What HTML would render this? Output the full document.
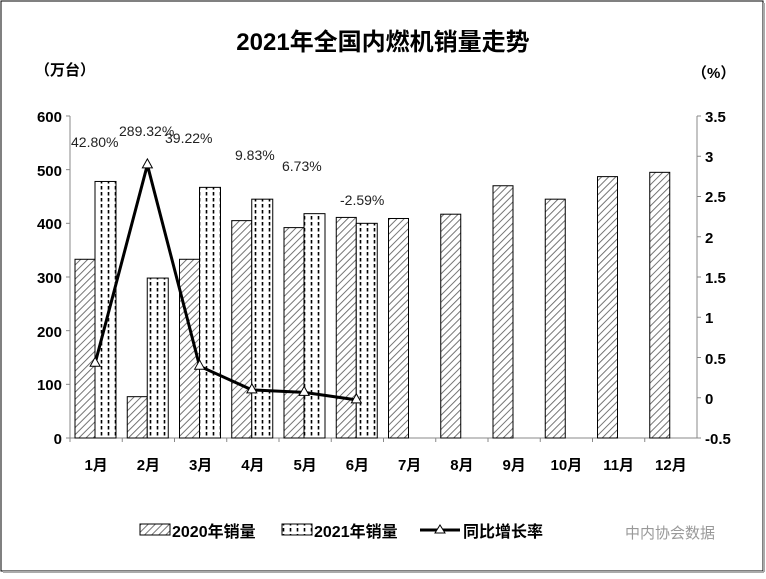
<!DOCTYPE html>
<html><head><meta charset="utf-8"><style>
body{margin:0;background:#fff}
svg text{font-family:"Liberation Sans","Noto Sans CJK SC",sans-serif}
</style></head><body>
<svg width="766" height="574" xmlns="http://www.w3.org/2000/svg">
<defs>
<pattern id="h" patternUnits="userSpaceOnUse" width="5" height="5" patternTransform="rotate(45)">
<rect width="5" height="5" fill="#fff"/><line x1="0" y1="0" x2="0" y2="5" stroke="#666" stroke-width="1.8"/>
</pattern>
<pattern id="d" patternUnits="userSpaceOnUse" width="7" height="6">
<rect width="7" height="6" fill="#fff"/><line x1="3.5" y1="0" x2="3.5" y2="3.5" stroke="#000" stroke-width="1.6"/>
</pattern>
</defs>
<rect x="1" y="1" width="762" height="570" fill="#fff" stroke="#000" stroke-width="1"/>
<line x1="764" y1="3" x2="764" y2="572" stroke="#aaa" stroke-width="2"/>
<line x1="3" y1="572" x2="764" y2="572" stroke="#aaa" stroke-width="2"/>
<text x="383" y="50" font-size="24" font-weight="bold" text-anchor="middle">2021年全国内燃机销量走势</text>
<text x="35" y="75" font-size="15" font-weight="bold">（万台）</text>
<text x="692" y="78" font-size="15" font-weight="bold">（%）</text>
<g font-size="15" font-weight="bold" text-anchor="end">
<text x="62" y="122">600</text><text x="62" y="176">500</text><text x="62" y="229">400</text><text x="62" y="283">300</text><text x="62" y="337">200</text><text x="62" y="390">100</text><text x="62" y="444">0</text>
</g>
<g font-size="15" font-weight="bold">
<text x="705" y="122">3.5</text><text x="705" y="162">3</text><text x="705" y="202">2.5</text><text x="705" y="243">2</text><text x="705" y="283">1.5</text><text x="705" y="323">1</text><text x="705" y="364">0.5</text><text x="705" y="404">0</text><text x="705" y="444">-0.5</text>
</g>
<g stroke="#888" stroke-width="1">
<line x1="70" y1="116" x2="70" y2="438"/><line x1="697" y1="116" x2="697" y2="438"/>
<line x1="70" y1="438" x2="697" y2="438"/>
</g>
<g id="tk" stroke="#888" stroke-width="1"></g>
<g id="bars" stroke="#000" stroke-width="1"></g>
<g id="lbl" font-size="15" font-weight="bold" text-anchor="middle"></g>
<polyline id="ln" fill="none" stroke="#000" stroke-width="3"/>
<g id="mk" fill="#fff" stroke="#000" stroke-width="1"></g>
<g font-size="14" fill="#222">
<text x="71" y="147">42.80%</text><text x="119" y="136">289.32%</text><text x="165" y="143">39.22%</text>
<text x="235" y="160">9.83%</text><text x="282" y="171">6.73%</text><text x="340" y="205">-2.59%</text>
</g>
<rect x="140" y="524" width="30" height="11" fill="url(#h)" stroke="#000"/>
<text x="172" y="537" font-size="16" font-weight="bold">2020年销量</text>
<rect x="282" y="524" width="30" height="11" fill="url(#d)" stroke="#000"/>
<text x="314" y="537" font-size="16" font-weight="bold">2021年销量</text>
<line x1="420" y1="530" x2="460" y2="530" stroke="#000" stroke-width="3"/>
<polygon points="440,525 445,533 435,533" fill="#fff" stroke="#000"/>
<text x="463" y="537" font-size="16" font-weight="bold">同比增长率</text>
<text x="625" y="538" font-size="15" fill="#999">中内协会数据</text>
</svg>
<script>
var a=[333,77,333,405,392,411,409,417,470,445,487,495],b=[478,298,467,445,418,400],r=[0.428,2.893,0.392,0.098,0.067,-0.026];
var ns="http://www.w3.org/2000/svg",g=document.getElementById('bars'),L=document.getElementById('lbl'),M=document.getElementById('mk'),T=document.getElementById('tk');
function y(v){return 438-v*0.5367}
function el(t,p,at){var e=document.createElementNS(ns,t);for(var k in at)e.setAttribute(k,at[k]);p.appendChild(e);return e}
for(var k=0;k<=6;k++){var yy=438-k*53.67;el('line',T,{x1:66,y1:yy,x2:70,y2:yy});}
for(var k=0;k<=8;k++){var yy=438-k*40.25;el('line',T,{x1:697,y1:yy,x2:701,y2:yy});}
var w=52.25,pts=[];
for(var i=0;i<12;i++){var x0=70+w*i;
el('line',T,{x1:x0,y1:438,x2:x0,y2:442});
el('rect',g,{x:x0+5,y:y(a[i]),width:20,height:438-y(a[i]),fill:'url(#h)'});
if(i<6){el('rect',g,{x:x0+25,y:y(b[i]),width:21,height:438-y(b[i]),fill:'url(#d)'});
var px=x0+w/2-1,py=397.75-r[i]*80.5;pts.push(px+','+py);
el('polygon',M,{points:(px)+','+(py-6)+' '+(px+5)+','+(py+3)+' '+(px-5)+','+(py+3)});}
var t=el('text',L,{x:x0+w/2,y:470});t.textContent=(i+1)+'月';}
document.getElementById('ln').setAttribute('points',pts.join(' '));
</script>
</body></html>
